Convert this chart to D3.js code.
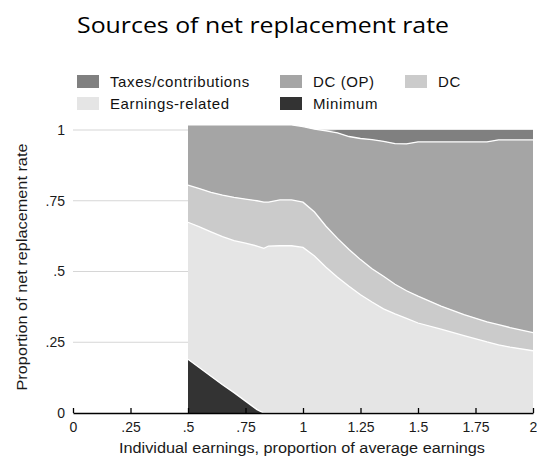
<!DOCTYPE html>
<html>
<head>
<meta charset="utf-8">
<script src="https://cdn.jsdelivr.net/npm/d3@7"></script>
<style>
  html, body { margin: 0; padding: 0; background: #fff; }
  svg { display: block; }
</style>
</head>
<body>
<svg id="chart" width="537" height="459"></svg>
<script>
// ---- data ----
const earnings = [0.5, 0.55, 0.6, 0.65, 0.7, 0.75, 0.8, 0.83, 0.85, 0.9, 0.95, 1.0, 1.05, 1.1, 1.15, 1.2, 1.25, 1.3, 1.35, 1.4, 1.45, 1.5, 1.6, 1.7, 1.8, 1.85, 1.9, 2.0];
const minimum = [0.19, 0.16, 0.13, 0.10, 0.072, 0.042, 0.012, 0, 0, 0, 0, 0, 0, 0, 0, 0, 0, 0, 0, 0, 0, 0, 0, 0, 0, 0, 0, 0];
const earningsRelated = [0.484, 0.498, 0.510, 0.523, 0.537, 0.558, 0.578, 0.582, 0.590, 0.591, 0.591, 0.585, 0.555, 0.515, 0.48, 0.448, 0.418, 0.392, 0.368, 0.350, 0.334, 0.318, 0.296, 0.273, 0.251, 0.241, 0.233, 0.220];
const dc = [0.131, 0.135, 0.140, 0.147, 0.153, 0.156, 0.160, 0.163, 0.155, 0.162, 0.162, 0.160, 0.155, 0.145, 0.137, 0.130, 0.124, 0.118, 0.115, 0.105, 0.098, 0.095, 0.082, 0.075, 0.071, 0.071, 0.069, 0.064];
const dcOP = [0.213, 0.225, 0.238, 0.248, 0.256, 0.262, 0.268, 0.273, 0.273, 0.265, 0.265, 0.267, 0.293, 0.337, 0.373, 0.399, 0.428, 0.456, 0.477, 0.497, 0.519, 0.545, 0.580, 0.610, 0.636, 0.653, 0.663, 0.681];
const taxes = [0, 0, 0, 0, 0, 0, 0, 0, 0, 0, 0, 0, 0, 0, 0.01, 0.023, 0.03, 0.034, 0.04, 0.048, 0.049, 0.042, 0.042, 0.042, 0.042, 0.035, 0.035, 0.035];

const seriesNames = ["Minimum", "Earnings-related", "DC", "DC (OP)", "Taxes/contributions"];
const seriesValues = [minimum, earningsRelated, dc, dcOP, taxes];
const seriesColors = ["#333333", "#e5e5e5", "#cbcbcb", "#a5a5a5", "#808080"];

const xTicks = [0, 0.25, 0.5, 0.75, 1, 1.25, 1.5, 1.75, 2];
const xTickLabels = ["0", ".25", ".5", ".75", "1", "1.25", "1.5", "1.75", "2"];
const yTicks = [0, 0.25, 0.5, 0.75, 1];
const yTickLabels = ["0", ".25", ".5", ".75", "1"];

// legend layout order
const legendRows = [["Taxes/contributions", "DC (OP)", "DC"], ["Earnings-related", "Minimum"]];

// ---- chart ----
const svg = d3.select("#chart");
const x = d3.scaleLinear().domain([0, 2]).range([73, 533]);
const y = d3.scaleLinear().domain([0, 1]).range([413, 130]);
const labelFont = "'Liberation Sans', Arial, sans-serif";

// title
svg.append("text")
  .attr("x", 263).attr("y", 33)
  .attr("text-anchor", "middle")
  .attr("font-family", "'Open Sans', 'Noto Sans', sans-serif")
  .attr("font-size", 21)
  .attr("fill", "#000")
  .attr("textLength", 372)
  .attr("lengthAdjust", "spacingAndGlyphs")
  .text("Sources of net replacement rate");

// gridlines
svg.append("g").selectAll("line")
  .data(yTicks.filter(d => d > 0))
  .join("line")
  .attr("x1", x(0)).attr("x2", x(2))
  .attr("y1", d => y(d)).attr("y2", d => y(d))
  .attr("stroke", "#d6d6d6").attr("stroke-width", 1.2);

// stacked data
const rows = earnings.map((e, i) => {
  const o = { x: e };
  seriesNames.forEach((n, k) => { o[n] = seriesValues[k][i]; });
  return o;
});
const stacked = d3.stack().keys(seriesNames)(rows);

const area = d3.area()
  .x(d => x(d.data.x))
  .y0(d => y(d[0]))
  .y1(d => y(d[1]));
const topLine = d3.line()
  .x(d => x(d.data.x))
  .y(d => y(d[1]));

const gArea = svg.append("g");
gArea.selectAll("path.area")
  .data(stacked)
  .join("path")
  .attr("class", "area")
  .attr("d", area)
  .attr("fill", (d, i) => seriesColors[i]);

gArea.selectAll("path.sep")
  .data(stacked.slice(0, 4))
  .join("path")
  .attr("class", "sep")
  .attr("d", d => topLine(d))
  .attr("fill", "none")
  .attr("stroke", "#fff")
  .attr("stroke-width", 1.3);

// x axis
const xAxis = d3.axisBottom(x)
  .tickValues(xTicks)
  .tickFormat((d, i) => xTickLabels[i])
  .tickSizeInner(-5)
  .tickSizeOuter(0)
  .tickPadding(9);
const gx = svg.append("g").attr("transform", `translate(0,${y(0)})`).call(xAxis);
gx.select(".domain").attr("stroke", "#000").attr("stroke-width", 1.5);
gx.selectAll(".tick line").attr("stroke", "#000").attr("stroke-width", 1.3);
gx.selectAll(".tick text")
  .attr("font-family", labelFont).attr("font-size", 14).attr("fill", "#1a1a1a");

// y axis labels
const yAxis = d3.axisLeft(y)
  .tickValues(yTicks)
  .tickFormat((d, i) => yTickLabels[i])
  .tickSize(0)
  .tickPadding(8);
const gy = svg.append("g").attr("transform", `translate(${x(0)},0)`).call(yAxis);
gy.select(".domain").remove();
gy.selectAll(".tick text")
  .attr("font-family", labelFont).attr("font-size", 14).attr("fill", "#1a1a1a");

// axis titles
svg.append("text")
  .attr("x", 302).attr("y", 453)
  .attr("text-anchor", "middle")
  .attr("font-family", labelFont).attr("font-size", 14).attr("fill", "#1a1a1a")
  .attr("textLength", 366).attr("lengthAdjust", "spacingAndGlyphs")
  .text("Individual earnings, proportion of average earnings");

svg.append("text")
  .attr("transform", "translate(27,267) rotate(-90)")
  .attr("text-anchor", "middle")
  .attr("font-family", labelFont).attr("font-size", 14).attr("fill", "#1a1a1a")
  .attr("textLength", 247).attr("lengthAdjust", "spacingAndGlyphs")
  .text("Proportion of net replacement rate");

// legend
const colX = [77, 280, 405];
const rowY = [75, 97];
const colorOf = n => seriesColors[seriesNames.indexOf(n)];
legendRows.forEach((row, r) => {
  row.forEach((name, c) => {
    const g = svg.append("g").attr("transform", `translate(${colX[c]},${rowY[r]})`);
    g.append("rect").attr("width", 22).attr("height", 13).attr("fill", colorOf(name));
    g.append("text")
      .attr("x", 33).attr("y", 12)
      .attr("font-family", labelFont).attr("font-size", 15)
      .attr("letter-spacing", 0.6).attr("fill", "#111")
      .text(name);
  });
});
</script>
</body>
</html>
